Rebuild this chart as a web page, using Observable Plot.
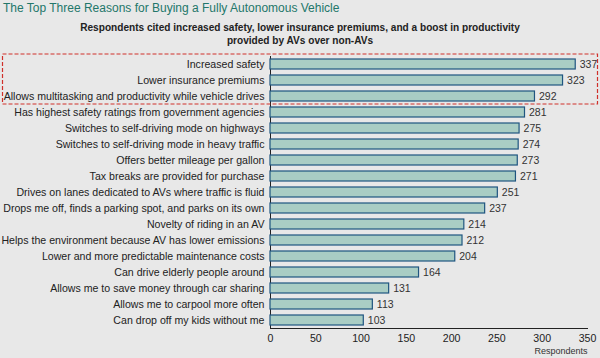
<!DOCTYPE html>
<html><head><meta charset="utf-8">
<script src="https://cdn.jsdelivr.net/npm/d3@7"></script>
<script src="https://cdn.jsdelivr.net/npm/@observablehq/plot@0.6"></script>
<style>
body{margin:0;background:#e8e8e8;font-family:"Liberation Sans",sans-serif;}
#wrap{width:600px;height:358px;position:relative;overflow:hidden;}
#title{position:absolute;left:3px;top:1px;font-size:12px;color:#23776a;}
#sub{position:absolute;left:0;top:21px;width:600px;text-align:center;font-size:10.1px;font-weight:bold;color:#222;line-height:13px;}
#chart{position:absolute;left:0;top:50px;}
</style></head>
<body><div id="wrap">
<div id="title">The Top Three Reasons for Buying a Fully Autonomous Vehicle</div>
<div id="sub">Respondents cited increased safety, lower insurance premiums, and a boost in productivity<br>provided by AVs over non-AVs</div>
<div id="chart"></div>
</div>
<script>
const reasons = [
"Increased safety",
"Lower insurance premiums",
"Allows multitasking and productivity while vehicle drives",
"Has highest safety ratings from government agencies",
"Switches to self-driving mode on highways",
"Switches to self-driving mode in heavy traffic",
"Offers better mileage per gallon",
"Tax breaks are provided for purchase",
"Drives on lanes dedicated to AVs where traffic is fluid",
"Drops me off, finds a parking spot, and parks on its own",
"Novelty of riding in an AV",
"Helps the environment because AV has lower emissions",
"Lower and more predictable maintenance costs",
"Can drive elderly people around",
"Allows me to save money through car sharing",
"Allows me to carpool more often",
"Can drop off my kids without me"
];
const respondents = [337,323,292,281,275,274,273,271,251,237,214,212,204,164,131,113,103];
const xTicks = [0,50,100,150,200,250,300,350];
const highlighted = reasons.slice(0,3);

const data = reasons.map((r,i)=>({reason:r, value:respondents[i]}));

const plot = Plot.plot({
  width: 600, height: 308,
  marginLeft: 270, marginRight: 13, marginTop: 6, marginBottom: 30,
  style: {background:"transparent", fontFamily:"Liberation Sans, sans-serif", fontSize:"10.6px", color:"#222", overflow:"visible"},
  x: {domain:[0,350], ticks: xTicks, label:null, tickSize:0, tickPadding:6, line:true},
  y: {domain: reasons, paddingInner: 0.375, paddingOuter: 0.1875, label:null, tickSize:0, tickPadding:6, line:true},
  marks: [
    Plot.barX(data, {x:"value", y:"reason", fill:"#a9cdc4", stroke:"#1f5580", strokeWidth:1.2}),
    Plot.text(data, {x:"value", y:"reason", text:d=>String(d.value), textAnchor:"start", dx:4, fill:"#333", fontSize:10.5}),
    Plot.text(["Respondents"], {frameAnchor:"bottom-right", dy:25, fontSize:9, fill:"#333", textAnchor:"end"})
  ]
});
document.getElementById("chart").appendChild(plot);

// dashed highlight box around the top three rows, from the y scale
const ys = plot.scale("y");
const bw = ys.bandwidth, step = ys.step;
const boxTop = ys.apply(highlighted[0]) - (step - bw)/2 - 2;
const boxBot = ys.apply(highlighted[2]) + bw + (step - bw)/2;
d3.select(plot).append("rect")
  .attr("x", 2.5).attr("y", boxTop).attr("width", 595).attr("height", boxBot - boxTop)
  .attr("fill","none").attr("stroke","#d0302a").attr("stroke-width",1.2)
  .attr("stroke-dasharray","4,2");
</script>
</body></html>
